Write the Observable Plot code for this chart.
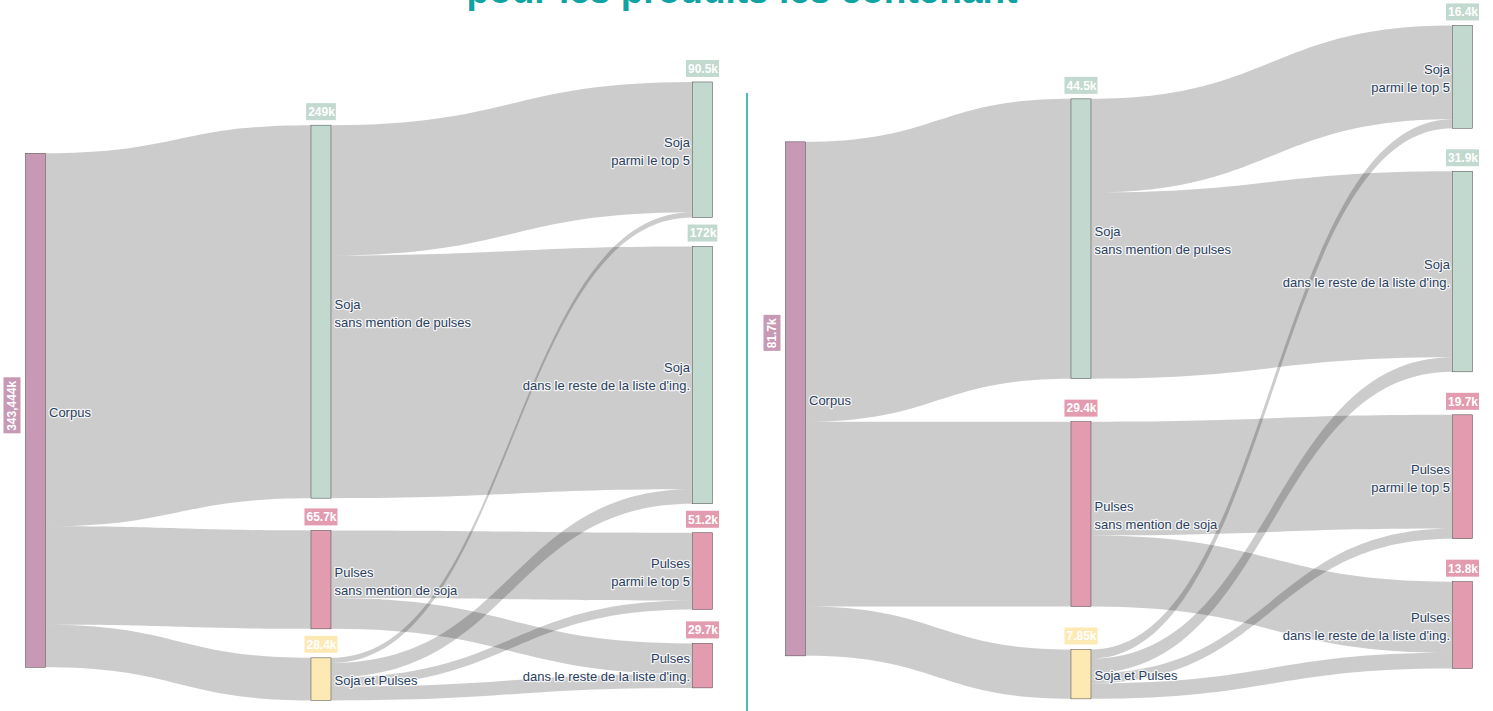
<!DOCTYPE html>
<html><head><meta charset="utf-8">
<script src="https://cdn.jsdelivr.net/npm/d3@7"></script>
<script src="https://cdn.jsdelivr.net/npm/@observablehq/plot@0.6"></script>
<style>
html,body{margin:0;padding:0;background:#fff;overflow:hidden;width:1493px;height:711px;position:relative}
#title{position:absolute;left:0;top:-28px;width:1484px;text-align:center;font:bold 37px "Liberation Sans",Arial,sans-serif;line-height:37px;color:#10a3a3;white-space:nowrap}
</style></head>
<body>
<div id="title">pour les produits les contenant</div>
<div id="chart"></div>
<script>
// ---------- data ----------
const nodeNames = ["Corpus","Soja\nsans mention de pulses","Pulses\nsans mention de soja","Soja et Pulses","Soja\nparmi le top 5","Soja\ndans le reste de la liste d'ing.","Pulses\nparmi le top 5","Pulses\ndans le reste de la liste d'ing."];
const nodeColumns = [0,1,1,1,2,2,2,2];
const nodeGroups = ["corpus","soja","pulses","both","soja","soja","pulses","pulses"];
const linkSources = [0,0,0,1,1,2,2,3,3,3,3];
const linkTargets = [1,2,3,4,5,6,7,4,5,6,7];
const valuesA = [249,65.7,28.4,87.0,162.0,45.2,20.5,3.5,9.7,6.0,9.2];
const valuesB = [44.5,29.4,7.85,14.9,29.6,18.1,11.3,1.45,2.3,1.6,2.5];
const valueLabelsA = ["343,444k","249k","65.7k","28.4k","90.5k","172k","51.2k","29.7k"];
const valueLabelsB = ["81.7k","44.5k","29.4k","7.85k","16.4k","31.9k","19.7k","13.8k"];

// ---------- style / layout settings ----------
const groupColors = {corpus:"#c899b4",soja:"#c2d9cf",pulses:"#e39bb0",both:"#fde9b3"};
const W=1493,H=711;
const nodeWidth=20, spanX=687, colFrac=[0,0.428,1];
const panels=[
  {values:valuesA,labels:valueLabelsA,originX:25.5,extent:[80,860],nodePadding:29,scalePadding:88.67,iterations:2,damping:0.9,totalLabelShift:-5},
  {values:valuesB,labels:valueLabelsB,originX:785.5,extent:[16,792],nodePadding:43,scalePadding:87.33,iterations:1,damping:1,totalLabelShift:-66}
];

// ---------- sankey layout (d3-sankey style relaxation) ----------
function sankeyLayout(values,o){
  const nodes=nodeNames.map((name,i)=>({index:i,name,layer:nodeColumns[i],sourceLinks:[],targetLinks:[]}));
  const links=values.map((v,i)=>({index:i,source:nodes[linkSources[i]],target:nodes[linkTargets[i]],value:v}));
  for(const l of links){l.source.sourceLinks.push(l);l.target.targetLinks.push(l);}
  for(const n of nodes){n.value=Math.max(d3.sum(n.sourceLinks,l=>l.value),d3.sum(n.targetLinks,l=>l.value));}
  const ncol=d3.max(nodes,n=>n.layer)+1;
  const columns=Array.from({length:ncol},()=>[]);
  for(const n of nodes) columns[n.layer].push(n);
  const [Y0,Y1]=o.extent, it=o.iterations, a0=o.damping, pk=o.scalePadding;
  let py=o.nodePadding;
  const ky=d3.min(columns,c=>(Y1-Y0-(c.length-1)*pk)/d3.sum(c,n=>n.value));
  for(const l of links) l.width=l.value*ky;
  const byY=(a,b)=>a.y0-b.y0;
  const aS=(a,b)=>(a.source.y0-b.source.y0)||(a.index-b.index);
  const aT=(a,b)=>(a.target.y0-b.target.y0)||(a.index-b.index);
  py=Math.min(py,(Y1-Y0)/(d3.max(columns,c=>c.length)-1));
  const reorderNodeLinks=(n)=>{for(const l of n.targetLinks) l.source.sourceLinks.sort(aT); for(const l of n.sourceLinks) l.target.targetLinks.sort(aS);};
  for(const col of columns){
    let y=Y0;
    for(const n of col){n.y0=y;n.y1=y+n.value*ky;y=n.y1+py;}
    y=(Y1-y+py)/(col.length+1);
    for(let i=0;i<col.length;i++){col[i].y0+=y*(i+1);col[i].y1+=y*(i+1);}
    for(const n of col){n.sourceLinks.sort(aT);n.targetLinks.sort(aS);}
  }
  const tbt=(col,y,i,alpha)=>{for(;i<col.length;++i){const n=col[i];const dy=(y-n.y0)*alpha;if(dy>1e-6){n.y0+=dy;n.y1+=dy;}y=n.y1+py;}};
  const btt=(col,y,i,alpha)=>{for(;i>=0;--i){const n=col[i];const dy=(n.y1-y)*alpha;if(dy>1e-6){n.y0-=dy;n.y1-=dy;}y=n.y0-py;}};
  const resolve=(col,alpha)=>{const i=col.length>>1;const s=col[i];btt(col,s.y0-py,i-1,alpha);tbt(col,s.y1+py,i+1,alpha);btt(col,Y1,col.length-1,alpha);tbt(col,Y0,0,alpha);};
  const sourceTop=(source,target)=>{let y=target.y0-(target.targetLinks.length-1)*py/2;for(const l of target.targetLinks){if(l.source===source)break;y+=l.width+py;}for(const l of source.sourceLinks){if(l.target===target)break;y-=l.width;}return y;};
  const targetTop=(source,target)=>{let y=source.y0-(source.sourceLinks.length-1)*py/2;for(const l of source.sourceLinks){if(l.target===target)break;y+=l.width+py;}for(const l of target.targetLinks){if(l.source===source)break;y-=l.width;}return y;};
  for(let i=0;i<it;i++){
    const alpha=a0*Math.pow(0.99,i),beta=Math.max(1-Math.pow(0.99,i),(i+1)/it);
    for(let c=columns.length-2;c>=0;--c){const col=columns[c];
      for(const s of col){let y=0,w=0;for(const l of s.sourceLinks){const v=l.value*(l.target.layer-s.layer);y+=sourceTop(s,l.target)*v;w+=v;}if(!(w>0))continue;const dy=(y/w-s.y0)*alpha;s.y0+=dy;s.y1+=dy;reorderNodeLinks(s);}
      col.sort(byY);resolve(col,beta);}
    for(let c=1;c<columns.length;++c){const col=columns[c];
      for(const t of col){let y=0,w=0;for(const l of t.targetLinks){const v=l.value*(t.layer-l.source.layer);y+=targetTop(l.source,t)*v;w+=v;}if(!(w>0))continue;const dy=(y/w-t.y0)*alpha;t.y0+=dy;t.y1+=dy;reorderNodeLinks(t);}
      col.sort(byY);resolve(col,beta);}
  }
  for(const n of nodes){n.sourceLinks.sort(aT);n.targetLinks.sort(aS);}
  for(const n of nodes){let a=n.y0,b=n.y0;for(const l of n.sourceLinks){l.y0=a+l.width/2;a+=l.width;}for(const l of n.targetLinks){l.y1=b+l.width/2;b+=l.width;}}
  return {nodes,links};
}

// ---------- build mark tables ----------
const ctx=document.createElement("canvas").getContext("2d");
ctx.font="bold 12px 'Liberation Sans'";
const nodeRows=[],linkRows=[],boxRows=[];
panels.forEach((p,k)=>{
  const {nodes,links}=sankeyLayout(p.values,p);
  for(const n of nodes){
    n.x0=p.originX+colFrac[n.layer]*(spanX-nodeWidth); n.x1=n.x0+nodeWidth;
    n.fill=groupColors[nodeGroups[n.index]];
    n.vlabel=p.labels[n.index];
    const tw=ctx.measureText(n.vlabel).width;
    if(n.layer===0){
      const cy=(n.y0+n.y1)/2+p.totalLabelShift;
      boxRows.push({x1:n.x0-22,x2:n.x0-5,y1:cy-tw/2-3,y2:cy+tw/2+3,fill:n.fill,tx:n.x0-13.5,ty:cy,text:n.vlabel,rot:-90});
    } else {
      const cx=(n.x0+n.x1)/2;
      boxRows.push({x1:cx-tw/2-1.5,x2:cx+tw/2+1.5,y1:n.y0-22,y2:n.y0-5,fill:n.fill,tx:cx,ty:n.y0-13.5,text:n.vlabel,rot:0});
    }
    n.lx=n.layer===2?n.x0-3:n.x1+3; n.cy=(n.y0+n.y1)/2;
    nodeRows.push(n);
  }
  for(const l of links){
    const id=k+"-"+l.index;
    linkRows.push({id,x:l.source.x1,ya:l.y0-l.width/2,yb:l.y0+l.width/2});
    linkRows.push({id,x:l.target.x0,ya:l.y1-l.width/2,yb:l.y1+l.width/2});
  }
});

const labelStyle={x:"lx",y:"cy",text:"name",lineAnchor:"middle",lineHeight:1.38,fill:"#2a3f5f",stroke:"white",strokeWidth:2.5,strokeOpacity:0.8,fontSize:13};
const plot=Plot.plot({
  width:W,height:H,margin:0,
  x:{domain:[0,W],range:[0,W],axis:null},
  y:{domain:[0,H],range:[0,H],axis:null},
  style:{fontFamily:"'Liberation Sans',Arial,sans-serif"},
  marks:[
    Plot.area(linkRows,{x1:"x",y1:"ya",y2:"yb",z:"id",curve:"bump-x",fill:"#000",fillOpacity:0.2}),
    Plot.rect(nodeRows,{x1:"x0",x2:"x1",y1:"y0",y2:"y1",fill:"fill",stroke:"#444",strokeWidth:0.5}),
    Plot.rect(boxRows,{x1:"x1",x2:"x2",y1:"y1",y2:"y2",fill:"fill"}),
    Plot.text(boxRows,{x:"tx",y:"ty",text:"text",rotate:"rot",fill:"white",fontWeight:"bold",fontSize:12}),
    Plot.text(nodeRows.filter(n=>n.layer<2),{...labelStyle,textAnchor:"start"}),
    Plot.text(nodeRows.filter(n=>n.layer===2),{...labelStyle,textAnchor:"end"}),
    Plot.ruleX([W/2],{y1:93,y2:H,stroke:"#10a3a3",strokeWidth:1.5})
  ]
});
document.getElementById("chart").appendChild(plot);
</script>
</body></html>
